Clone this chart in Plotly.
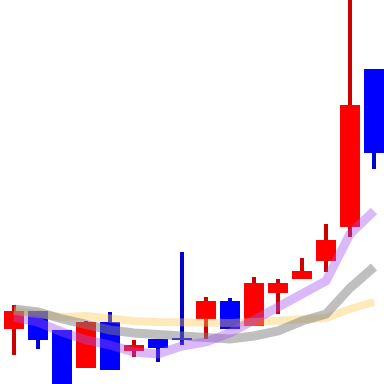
import plotly.graph_objects as go

# Candlestick data (16 periods)
days = list(range(16))
open_ = [15.5, 17.3, 15.4, 11.6, 16.2, 13.3, 14.5, 14.6, 16.5, 18.3, 15.8, 19.1, 20.5, 22.3, 25.7, 41.5]
high = [17.9, 17.3, 15.4, 16.3, 17.2, 14.4, 14.5, 23.2, 18.7, 18.6, 20.7, 20.5, 22.6, 26.0, 48.4, 41.5]
low = [12.9, 13.5, 10.0, 11.6, 11.4, 12.7, 12.2, 13.9, 14.5, 15.5, 15.8, 17.0, 20.5, 21.2, 24.7, 31.5]
close = [17.3, 14.4, 10.0, 16.2, 11.4, 13.9, 13.6, 14.4, 18.3, 15.5, 20.1, 20.1, 21.3, 24.4, 37.9, 33.1]

# Moving-average lines
ma5 = [16.7, 16.2, 15.2, 14.4, 13.9, 13.2, 13.0, 13.8, 14.2, 15.1, 16.4, 17.7, 19.1, 20.3, 25.0, 27.3]
ma10 = [17.5, 17.2, 16.5, 15.9, 15.4, 15.1, 15.0, 14.9, 14.7, 14.5, 14.8, 15.3, 16.3, 17.0, 19.6, 21.7]
ma20 = [17.3, 17.0, 16.7, 16.8, 16.5, 16.3, 16.2, 16.1, 16.1, 16.1, 16.2, 16.3, 16.4, 16.6, 17.5, 18.2]

UP_BODY, UP_WICK = "#ff0000", "#cc0000"
DN_BODY, DN_WICK = "#0000ff", "#0000cc"

up = [c >= o for o, c in zip(open_, close)]
body_base = [min(o, c) for o, c in zip(open_, close)]
body_len = [abs(c - o) for o, c in zip(open_, close)]
wick_len = [h - l for h, l in zip(high, low)]

fig = go.Figure()
fig.add_trace(go.Bar(
    x=days, y=wick_len, base=low, width=4 / 24,
    marker=dict(color=[UP_WICK if u else DN_WICK for u in up], line=dict(width=0)),
    hoverinfo="skip", showlegend=False))
fig.add_trace(go.Bar(
    x=days, y=body_len, base=body_base, width=20 / 24,
    marker=dict(color=[UP_BODY if u else DN_BODY for u in up], line=dict(width=0)),
    showlegend=False))

fig.add_trace(go.Scatter(x=days, y=ma20, mode="lines",
                         line=dict(color="rgba(250,200,80,0.4)", width=8), showlegend=False))
fig.add_trace(go.Scatter(x=days, y=ma10, mode="lines",
                         line=dict(color="rgba(128,128,128,0.5)", width=9), showlegend=False))
fig.add_trace(go.Scatter(x=days, y=ma5, mode="lines",
                         line=dict(color="rgba(160,80,240,0.4)", width=9), showlegend=False))

fig.update_layout(
    width=384, height=384,
    margin=dict(l=0, r=0, t=0, b=0),
    paper_bgcolor="white", plot_bgcolor="white",
    barmode="overlay", bargap=0,
    xaxis=dict(range=[-14 / 24, 15 + 10 / 24], visible=False, fixedrange=True),
    yaxis=dict(range=[10, 48.4], visible=False, fixedrange=True),
)

fig.write_html("out.html", config={"displayModeBar": False})
